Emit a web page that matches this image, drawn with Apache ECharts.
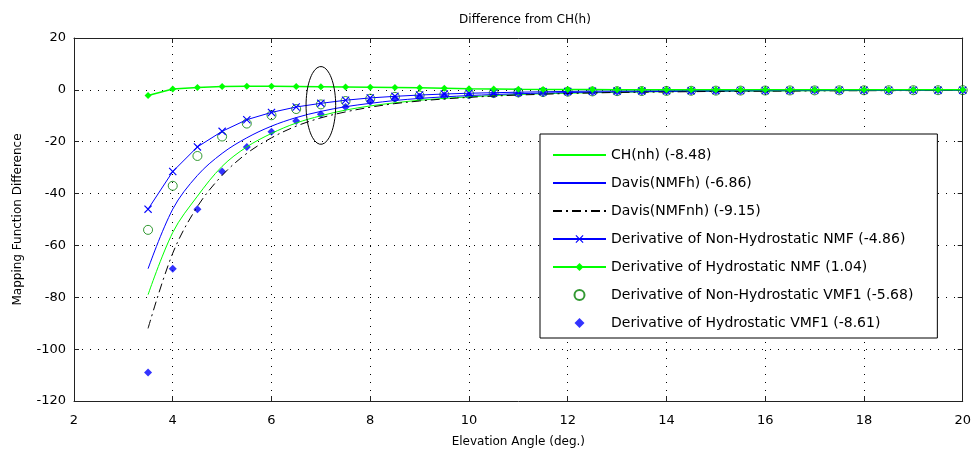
<!DOCTYPE html>
<html>
<head>
<meta charset="utf-8">
<script src="https://cdn.jsdelivr.net/npm/echarts@6/dist/echarts.min.js"></script>
<style>
html,body{margin:0;padding:0;background:#fff;}
#chart{width:974px;height:456px;}
</style>
</head>
<body>
<div id="chart"></div>
<script>
const titleText = 'Difference from CH(h)';
const xName = 'Elevation Angle (deg.)';
const yName = 'Mapping Function Difference';
const xTicks = {min: 2, max: 20, interval: 2};
const yTicks = {min: -120, max: 20, interval: 20};

const angles = [3.5,4,4.5,5,5.5,6,6.5,7,7.5,8,8.5,9,9.5,10,10.5,11,11.5,12,12.5,13,13.5,14,14.5,15,15.5,16,16.5,17,17.5,18,18.5,19,19.5,20];

const chNh    = [-79,-55,-41,-29.5,-22,-16.8,-12.8,-10,-7.8,-6.2,-5,-4,-3.3,-2.7,-2.2,-1.8,-1.5,-1.3,-1.1,-0.95,-0.8,-0.7,-0.6,-0.55,-0.5,-0.45,-0.4,-0.35,-0.3,-0.28,-0.25,-0.22,-0.2,-0.18];
const davisH  = [-69,-46,-33,-24.5,-18.5,-14,-10.7,-8.3,-6.5,-5.2,-4.1,-3.3,-2.7,-2.2,-1.8,-1.5,-1.25,-1.05,-0.9,-0.8,-0.7,-0.6,-0.5,-0.45,-0.4,-0.35,-0.3,-0.28,-0.25,-0.22,-0.2,-0.18,-0.16,-0.15];
const davisNh = [-92,-63,-45,-33,-24.5,-18.5,-14,-10.8,-8.5,-6.7,-5.3,-4.3,-3.5,-2.9,-2.4,-2,-1.7,-1.4,-1.2,-1,-0.9,-0.8,-0.7,-0.6,-0.55,-0.5,-0.45,-0.4,-0.35,-0.32,-0.3,-0.27,-0.25,-0.22];
const nmfNh   = [-46,-31.5,-22,-16,-11.5,-8.7,-6.6,-5.2,-4,-3.1,-2.5,-2,-1.6,-1.3,-1.1,-0.9,-0.75,-0.6,-0.5,-0.45,-0.4,-0.35,-0.3,-0.28,-0.25,-0.22,-0.2,-0.18,-0.16,-0.15,-0.14,-0.13,-0.12,-0.11];
const nmfH    = [-2.2,0.3,0.9,1.3,1.4,1.4,1.3,1.2,1.1,1,0.9,0.8,0.6,0.4,0.3,0.2,0.15,0.1,0.1,0.05,0.05,0,0,0,0,0,0,0,0,0,0,0,0,0];
const vmfNh   = [-54,-37,-25.5,-18,-13,-9.8,-7.4,-5.6,-4.3,-3.4,-2.7,-2.2,-1.8,-1.5,-1.2,-1,-0.85,-0.7,-0.6,-0.5,-0.45,-0.4,-0.35,-0.3,-0.28,-0.25,-0.22,-0.2,-0.18,-0.16,-0.15,-0.14,-0.13,-0.12];
const vmfH    = [-109,-69,-46,-31.5,-22,-16.2,-12,-9.4,-6.6,-4.6,-3.4,-2.7,-2.3,-2.1,-1.7,-1.4,-1.2,-1,-0.85,-0.75,-0.65,-0.55,-0.5,-0.45,-0.4,-0.35,-0.3,-0.28,-0.25,-0.22,-0.2,-0.18,-0.16,-0.15];

const seriesNames = [
  'CH(nh) (-8.48)',
  'Davis(NMFh) (-6.86)',
  'Davis(NMFnh) (-9.15)',
  'Derivative of Non-Hydrostatic NMF (-4.86)',
  'Derivative of Hydrostatic NMF (1.04)',
  'Derivative of Non-Hydrostatic VMF1 (-5.68)',
  'Derivative of Hydrostatic VMF1 (-8.61)'
];

// annotation ellipse (data units)
const ellipseCenter = [7, -6];
const ellipseRadii = [0.3, 15];

function pairs(ys){ return angles.map((a,i)=>[a, ys[i]]); }
const ellipsePts = [];
for (let k = 0; k <= 72; k++) {
  const t = k / 72 * Math.PI * 2;
  ellipsePts.push([ellipseCenter[0] + ellipseRadii[0]*Math.cos(t), ellipseCenter[1] + ellipseRadii[1]*Math.sin(t)]);
}

const FONT = 'DejaVu Sans';
const xMark = 'path://M0,1L1,0L5,4L9,0L10,1L6,5L10,9L9,10L5,6L1,10L0,9L4,5Z';
const diamondPath = 'path://M5,0L10,5L5,10L0,5Z';
const gridDots = {color:'#000', width:1, type:[1,7]};
const hideSym = {opacity: 0};

const chart = echarts.init(document.getElementById('chart'), null, {renderer:'canvas'});
chart.setOption({
  animation: false,
  backgroundColor: '#fff',
  title: {text: titleText, left: 520, top: 9, textAlign: 'center',
    textStyle: {fontFamily: FONT, fontSize: 12, fontWeight: 'normal', color: '#000'}},
  grid: {left: 74, right: 7, top: 38, bottom: 55},
  legend: {
    data: [
      {name: seriesNames[0], itemStyle: hideSym},
      {name: seriesNames[1], itemStyle: hideSym},
      {name: seriesNames[2], itemStyle: hideSym},
      {name: seriesNames[3]},
      {name: seriesNames[4]},
      {name: seriesNames[5]},
      {name: seriesNames[6], icon: diamondPath}
    ],
    orient: 'vertical', left: 540, top: 134,
    backgroundColor: '#fff', borderColor: '#000', borderWidth: 1,
    padding: [14, 24, 8, 12], itemWidth: 53, itemHeight: 10, itemGap: 14,
    textStyle: {fontFamily: FONT, fontSize: 14, color: '#000'},
    selectedMode: false
  },
  xAxis: [{
    type: 'value', min: xTicks.min, max: xTicks.max, interval: xTicks.interval,
    name: xName, nameLocation: 'middle', nameGap: 35,
    nameTextStyle: {fontFamily: FONT, fontSize: 12, color: '#000'},
    axisLine: {onZero: false, lineStyle: {color: '#222', width: 1}},
    axisTick: {inside: true, length: 5, lineStyle: {color: '#222'}},
    axisLabel: {fontFamily: FONT, fontSize: 13, color: '#000', margin: 13},
    splitLine: {show: true, lineStyle: gridDots}
  }, {
    type: 'value', position: 'top', min: xTicks.min, max: xTicks.max, interval: xTicks.interval,
    axisLine: {onZero: false, lineStyle: {color: '#222', width: 1}},
    axisTick: {inside: true, length: 5, lineStyle: {color: '#222'}},
    axisLabel: {show: false}, splitLine: {show: false}
  }],
  yAxis: [{
    type: 'value', min: yTicks.min, max: yTicks.max, interval: yTicks.interval,
    name: yName, nameLocation: 'middle', nameGap: 50, nameRotate: 90,
    nameTextStyle: {fontFamily: FONT, fontSize: 12, color: '#000'},
    axisLine: {show: true, onZero: false, lineStyle: {color: '#222', width: 1}},
    axisTick: {show: true, inside: true, length: 5, lineStyle: {color: '#222'}},
    axisLabel: {fontFamily: FONT, fontSize: 13, color: '#000', margin: 8},
    splitLine: {show: true, lineStyle: gridDots}
  }, {
    type: 'value', position: 'right', min: yTicks.min, max: yTicks.max, interval: yTicks.interval,
    axisLine: {show: true, onZero: false, lineStyle: {color: '#222', width: 1}},
    axisTick: {show: true, inside: true, length: 5, lineStyle: {color: '#222'}},
    axisLabel: {show: false}, splitLine: {show: false}
  }],
  series: [
    {name: seriesNames[0], type: 'line', data: pairs(chNh), symbol: 'none', smooth: 0.35,
      lineStyle: {color: '#00ff00', width: 1}, itemStyle: {color: '#00ff00'}},
    {name: seriesNames[1], type: 'line', data: pairs(davisH), symbol: 'none', smooth: 0.35,
      lineStyle: {color: '#0000ff', width: 1}, itemStyle: {color: '#0000ff'}},
    {name: seriesNames[2], type: 'line', data: pairs(davisNh), symbol: 'none', smooth: 0.35,
      lineStyle: {color: '#000', width: 1, type: [9, 4, 2, 4]}, itemStyle: {color: '#000'}},
    {name: seriesNames[3], type: 'line', data: pairs(nmfNh), symbol: xMark, symbolSize: 8,
      lineStyle: {color: '#0000ff', width: 1}, itemStyle: {color: '#0000ff'}},
    {name: seriesNames[4], type: 'line', data: pairs(nmfH), symbol: 'diamond', symbolSize: 7,
      lineStyle: {color: '#00ff00', width: 1.5}, itemStyle: {color: '#00ff00'}},
    {name: seriesNames[5], type: 'scatter', data: pairs(vmfNh), symbol: 'circle', symbolSize: 9,
      itemStyle: {color: 'rgba(0,0,0,0)', borderColor: '#008000', borderWidth: 1}},
    {name: seriesNames[6], type: 'scatter', data: pairs(vmfH), symbol: diamondPath, symbolSize: 8,
      itemStyle: {color: '#0000ff'}},
    {name: 'ellipse', type: 'line', data: ellipsePts, symbol: 'none', silent: true,
      lineStyle: {color: '#000', width: 1}}
  ]
});
</script>
</body>
</html>
